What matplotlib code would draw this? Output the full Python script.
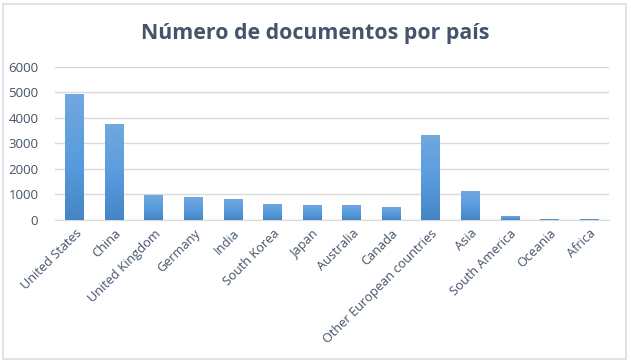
import numpy as np
import matplotlib
matplotlib.use("Agg")
import matplotlib.pyplot as plt
from matplotlib.colors import LinearSegmentedColormap
from matplotlib.patches import FancyBboxPatch

categories = ["United States", "China", "United Kingdom", "Germany", "India",
              "South Korea", "Japan", "Australia", "Canada",
              "Other European countries", "Asia", "South America", "Oceania", "Africa"]
documents = [4940, 3760, 980, 900, 820, 630, 590, 590, 510, 3330, 1140, 160, 40, 40]
yticks = [0, 1000, 2000, 3000, 4000, 5000, 6000]
title = "Número de documentos por país"

plt.rcParams['font.family'] = ['Open Sans', 'DejaVu Sans']
text_col = "#44546A"

fig = plt.figure(figsize=(6.31, 3.63), dpi=100)
# outer chart border
border = FancyBboxPatch((3/631, 4/363), 623/631, 355/363, boxstyle="square,pad=0",
                        transform=fig.transFigure, fill=False, edgecolor="#D9DDE3", lw=1.2)
fig.patches.append(border)

ax = fig.add_axes([55/631, (363-220)/363, (609-55)/631, (220-66.7)/363])
x = np.arange(len(categories))
bars = ax.bar(x, documents, width=0.48, color="#5B9BD5", zorder=2)

cmap = LinearSegmentedColormap.from_list("g", ["#4585C6", "#5A9DDE", "#72A8DE"])
grad = np.linspace(0, 1, 256).reshape(-1, 1)
for b in bars:
    bx, by = b.get_x(), b.get_y()
    w, h = b.get_width(), b.get_height()
    im = ax.imshow(grad, cmap=cmap, origin="lower", aspect="auto",
                   extent=[bx, bx + w, by, by + h], zorder=3)
    im.set_clip_path(b)

ax.set_xlim(-0.5, len(categories) - 0.5)
ax.set_ylim(0, 6000)
ax.set_yticks(yticks)
ax.set_yticklabels([str(v) for v in yticks], fontsize=9.5, color=text_col)
ax.set_xticks(x)
ax.set_xticklabels(categories, rotation=45, ha="right", rotation_mode="anchor",
                   fontsize=9.2, color=text_col)
ax.tick_params(axis="both", length=0)
ax.tick_params(axis="y", pad=12)
ax.tick_params(axis="x", pad=5)
ax.grid(axis="y", color="#D9D9D9", lw=1, zorder=0)
for s in ["top", "right", "left"]:
    ax.spines[s].set_visible(False)
ax.spines["bottom"].set_color("#D9D9D9")

fig.text(0.5, 1 - 33/363, title, ha="center", va="center",
         fontsize=15.4, fontweight="bold", color=text_col)

fig.savefig("out.png", dpi=100)
